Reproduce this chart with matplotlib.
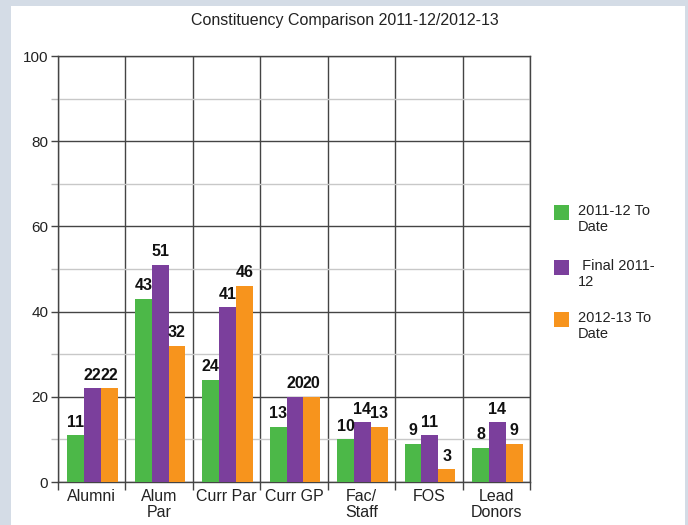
import matplotlib.pyplot as plt
from matplotlib.patches import Rectangle
import numpy as np

# data
categories = ['Alumni', 'Alum\nPar', 'Curr Par', 'Curr GP', 'Fac/\nStaff', 'FOS', 'Lead\nDonors']
todate_1112 = [11, 43, 24, 13, 10, 9, 8]
final_1112 = [22, 51, 41, 20, 14, 11, 14]
todate_1213 = [22, 32, 46, 20, 13, 3, 9]
series_names = ['2011-12 To\nDate', ' Final 2011-\n12', '2012-13 To\nDate']
colors = ['#4cb848', '#7b3f9c', '#f7941d']

plt.rcParams['font.family'] = ['Liberation Sans', 'DejaVu Sans']

fig = plt.figure(figsize=(6.88, 5.25), dpi=100, facecolor='#d4dce6')
# white panel behind everything
fig.patches.append(Rectangle((11/688, 0), (685-11)/688, 519/525, transform=fig.transFigure,
                             facecolor='white', edgecolor='none', zorder=-5))

ax = fig.add_axes([58/688, 1-482/525, (530-58)/688, (482-56)/525])
ax.set_zorder(2)
ax.set_facecolor('white')

x = np.arange(len(categories))
w = 0.25
for i, (vals, c) in enumerate(zip([todate_1112, final_1112, todate_1213], colors)):
    pos = x + (i - 1) * w + 0.015
    ax.bar(pos, vals, width=w, color=c, zorder=3)
    for p, v in zip(pos, vals):
        ax.annotate(str(v), (p, v), xytext=(0, 4), textcoords='offset points',
                    ha='center', va='bottom', fontsize=11.5, fontweight='bold',
                    color='#111111', zorder=4)

ax.set_xlim(-0.5, len(categories) - 0.5)
ax.set_ylim(0, 100)

ax.set_yticks(np.arange(0, 101, 20))
ax.set_yticks(np.arange(10, 100, 20), minor=True)
ax.set_xticks(x)
ax.set_xticklabels(categories, fontsize=11.5, color='#222222', linespacing=1.1)
ax.set_xticks(np.arange(-0.5, len(categories)), minor=True)
ax.tick_params(axis='x', which='major', length=0, pad=5)
ax.tick_params(axis='x', which='minor', length=6, color='#444444', width=1)
ax.tick_params(axis='y', which='major', length=5, color='#444444', width=1,
               labelsize=11, labelcolor='#222222', pad=2)
ax.tick_params(axis='y', which='minor', length=5, color='#bbbbbb', width=1)

ax.grid(True, axis='y', which='major', color='#444444', linewidth=1, zorder=1)
ax.grid(True, axis='y', which='minor', color='#c8c8c8', linewidth=1, zorder=1)
ax.grid(True, axis='x', which='minor', color='#444444', linewidth=1, zorder=1)
ax.set_axisbelow(True)
for s in ax.spines.values():
    s.set_color('#444444')
    s.set_linewidth(1)

fig.text(345/688, 1-20/525, 'Constituency Comparison 2011-12/2012-13', ha='center', va='center',
         fontsize=11.5, color='#222222')

# legend
tops = [205, 260, 312]
for name, c, t in zip(series_names, colors, tops):
    fig.patches.append(Rectangle((554/688, 1-(t+15)/525), 15/688, 15/525, transform=fig.transFigure,
                                 facecolor=c, edgecolor='none'))
    fig.text(578/688, 1-(t-1)/525, name, ha='left', va='top', fontsize=10.5,
             color='#222222', linespacing=1.15)

fig.savefig('out.png', dpi=100, facecolor=fig.get_facecolor())
